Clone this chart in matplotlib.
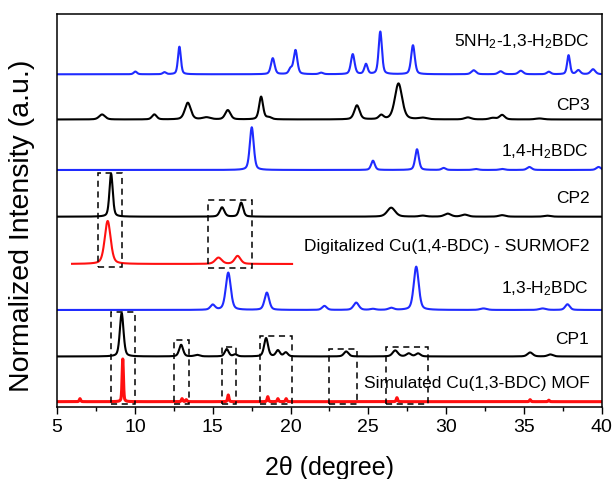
import numpy as np
import matplotlib.pyplot as plt
from matplotlib.patches import Rectangle

plt.rcParams['font.family'] = ['Liberation Sans', 'DejaVu Sans']
plt.rcParams['mathtext.fontset'] = 'custom'
plt.rcParams['mathtext.rm'] = 'Liberation Sans'
plt.rcParams['mathtext.it'] = 'Liberation Sans'
plt.rcParams['mathtext.default'] = 'regular'

# peak lists: position (deg), height (a.u.), fwhm (deg)
nh2_pos = [10.03, 11.9, 12.86, 18.86, 20.0, 20.32, 21.97, 24.0, 24.85, 25.77, 27.87, 31.77, 33.5, 34.8, 36.6, 37.87, 38.5, 39.44]
nh2_amp = [2.7, 2, 27.6, 16, 5, 24, 1.5, 20, 10, 42.6, 29, 4, 3, 3.5, 2.5, 19, 4, 5]
nh2_fwhm = [0.25, 0.25, 0.22, 0.28, 0.25, 0.28, 0.3, 0.28, 0.25, 0.25, 0.28, 0.35, 0.35, 0.35, 0.3, 0.22, 0.3, 0.35]

cp3_pos = [7.89, 11.25, 13.4, 14.6, 15.97, 18.11, 18.6, 24.27, 25.83, 26.94, 28.5, 31.4, 33.0, 33.6, 36.0]
cp3_amp = [5, 5, 16.7, 2, 9.3, 22.7, 2, 14, 4, 36, 1.5, 2, 1.5, 4.5, 1.0]
cp3_fwhm = [0.45, 0.35, 0.45, 0.6, 0.4, 0.3, 0.4, 0.4, 0.35, 0.55, 0.6, 0.5, 0.5, 0.4, 0.6]

bdc14_pos = [17.51, 25.3, 28.13, 29.84, 31.9, 33.6, 35.35, 39.8]
bdc14_amp = [42.7, 9.3, 20.7, 2, 1, 1, 3, 3]
bdc14_fwhm = [0.3, 0.28, 0.28, 0.3, 0.4, 0.4, 0.35, 0.35]

cp2_pos = [8.47, 15.6, 16.83, 26.47, 28.5, 30.1, 31.2, 33.6, 36.5]
cp2_amp = [43, 9.3, 14, 9, 1, 3, 2, 1.5, 1]
cp2_fwhm = [0.25, 0.35, 0.3, 0.6, 0.5, 0.5, 0.5, 0.5, 0.5]

surmof_range = [5.96, 20.1]
surmof_pos = [8.25, 15.37, 16.6]
surmof_amp = [43, 6.3, 8]
surmof_fwhm = [0.45, 0.5, 0.45]

bdc13_pos = [15.0, 16.0, 18.48, 22.18, 24.22, 25.3, 26.47, 28.08, 32.4, 36.2, 37.8]
bdc13_amp = [5, 37.3, 17.3, 4, 7.3, 1, 2, 43.3, 1.5, 1.5, 5.7]
bdc13_fwhm = [0.35, 0.38, 0.35, 0.35, 0.4, 0.4, 0.4, 0.38, 0.5, 0.5, 0.35]

cp1_pos = [9.15, 12.97, 14.0, 15.9, 16.45, 18.43, 19.19, 19.7, 23.58, 26.73, 27.6, 28.2, 35.4, 36.7]
cp1_amp = [43.3, 11.7, 1.5, 7.3, 2, 18.3, 6, 4, 5, 6, 3, 3, 4, 2]
cp1_fwhm = [0.28, 0.3, 0.4, 0.3, 0.3, 0.3, 0.3, 0.3, 0.35, 0.4, 0.35, 0.35, 0.4, 0.4]

sim_pos = [6.47, 9.22, 13.03, 13.3, 16.0, 18.54, 19.19, 19.72, 26.84, 35.4, 36.6]
sim_amp = [3, 42.7, 3, 2, 6.7, 5, 3, 3, 4, 2, 1.5]
sim_fwhm = [0.1] * 11

labels = ["5NH$_2$-1,3-H$_2$BDC", "CP3", "1,4-H$_2$BDC", "CP2",
          "Digitalized Cu(1,4-BDC) - SURMOF2", "1,3-H$_2$BDC", "CP1",
          "Simulated Cu(1,3-BDC) MOF"]

# dashed boxes: x0, x1, y0, y1
boxes_cp2 = [[7.61, 9.17, 139.4, 233.4], [14.68, 17.51, 138.4, 206.7]]
boxes_cp1 = [[8.47, 10.0, 2.7, 95], [12.54, 13.46, 2.7, 66.7], [15.58, 16.5, 2.7, 59.4],
             [18.05, 20.1, 2.7, 70.7], [22.5, 24.27, 2.7, 57.4], [26.13, 28.81, 2.7, 60]]

offsets = [332.4, 287.2, 236.7, 190, 142.7, 96.7, 50.2, 5]
label_y = [365, 300.7, 255, 207.7, 160, 118.4, 66.7, 22.7]
colors = ['#1f2bff', 'black', '#1f2bff', 'black', '#ff1010', '#1f2bff', 'black', '#ff1010']
widths = [1.5, 1.5, 1.5, 1.5, 1.5, 1.5, 1.5, 2.2]


def pattern(x, pos, amp, fwhm):
    y = np.zeros_like(x)
    for p, a, w in zip(pos, amp, fwhm):
        g = np.exp(-4 * np.log(2) * ((x - p) / w) ** 2)
        l = 1 / (1 + 4 * ((x - p) / w) ** 2)
        y += a * (0.6 * g + 0.4 * l)
    return y


x = np.linspace(5, 40, 3501)
xs = np.linspace(surmof_range[0], surmof_range[1], 1415)
traces = [
    (x, pattern(x, nh2_pos, nh2_amp, nh2_fwhm)),
    (x, pattern(x, cp3_pos, cp3_amp, cp3_fwhm)),
    (x, pattern(x, bdc14_pos, bdc14_amp, bdc14_fwhm)),
    (x, pattern(x, cp2_pos, cp2_amp, cp2_fwhm)),
    (xs, pattern(xs, surmof_pos, surmof_amp, surmof_fwhm)),
    (x, pattern(x, bdc13_pos, bdc13_amp, bdc13_fwhm)),
    (x, pattern(x, cp1_pos, cp1_amp, cp1_fwhm)),
    (x, pattern(x, sim_pos, sim_amp, sim_fwhm)),
]

fig = plt.figure(figsize=(6.16, 4.79), dpi=100)
ax = fig.add_axes([0.0927, 0.151, 0.8841, 0.8198])

for (tx, ty), off, c, lw in zip(traces, offsets, colors, widths):
    ax.plot(tx, ty + off, color=c, lw=lw)

for lab, ly in zip(labels, label_y):
    ax.text(39.2, ly, lab, ha='right', va='center', fontsize=12.5)

for bx in boxes_cp2 + boxes_cp1:
    ax.add_patch(Rectangle((bx[0], bx[2]), bx[1] - bx[0], bx[3] - bx[2], fill=False,
                           ec='black', lw=1.1, ls=(0, (4, 3)), zorder=5))

ax.set_xlim(5, 40)
ax.set_ylim(0, 392.7)
ax.set_xticks(np.arange(5, 41, 5))
ax.set_xticks(np.arange(7.5, 40, 5), minor=True)
ax.set_yticks([])
ax.tick_params(axis='x', which='major', direction='out', length=5, width=1, labelsize=14, pad=4)
ax.tick_params(axis='x', which='minor', direction='out', length=3, width=1)
for s in ax.spines.values():
    s.set_linewidth(1.1)

ax.set_xlabel("2θ (degree)", fontsize=18)
ax.set_ylabel("Normalized Intensity (a.u.)", fontsize=20.5)
ax.xaxis.set_label_coords(0.5, -0.125)
ax.yaxis.set_label_coords(-0.04, 0.46)

fig.savefig("out.png", dpi=100)
